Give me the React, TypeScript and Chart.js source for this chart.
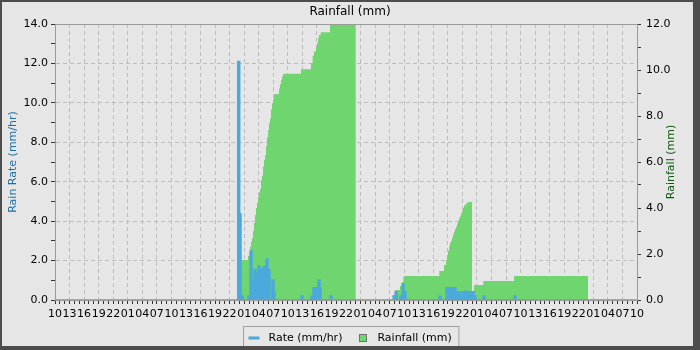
import { useEffect, useRef } from 'react';
import { Chart, registerables } from 'chart.js';

Chart.register(...registerables);
Chart.defaults.font.family = "'DejaVu Sans', sans-serif";

// hour-of-day labels every 3 hours, starting 10:00 (120 hours shown)
const xTickLabels = [
  '10', '13', '16', '19', '22', '01', '04', '07',
  '10', '13', '16', '19', '22', '01', '04', '07',
  '10', '13', '16', '19', '22', '01', '04', '07',
  '10', '13', '16', '19', '22', '01', '04', '07',
  '10', '13', '16', '19', '22', '01', '04', '07',
  '10',
];

// Rain rate (mm/hr): hours since start, value holds until next entry
const rateHours = [
  0, 37.67, 38.08, 38.35, 38.82, 39.79, 40.21, 40.62, 41.03, 41.44, 41.86, 42.27,
  42.47, 42.89, 43.09, 43.51, 43.92, 44.33, 44.74, 45.15, 45.36, 50.72, 51.13,
  52.78, 53.2, 53.61, 53.82, 54.23, 54.64, 54.85, 56.7, 57.11,
  69.73, 70.14, 70.56, 71.13, 71.55, 71.96, 72.37, 79.18, 79.59, 80.62, 81.65,
  81.86, 82.68, 83.51, 83.92, 84.54, 84.95, 86.39, 86.8, 88.25, 88.66, 94.64,
  95.05, 120,
];
const rateValues = [
  0, 12.1, 4.36, 0.2, 0, 0.2, 2.49, 1.01, 1.55, 1.27, 1.72, 0.84,
  1.57, 1.64, 1.72, 2.08, 1.54, 0, 1.01, 0.42, 0, 0.2, 0,
  0.2, 0.62, 0.2, 0.62, 1.01, 0.62, 0, 0.2, 0,
  0.2, 0.42, 0, 0.2, 0.81, 0.42, 0, 0.2, 0, 0.62, 0.42,
  0.62, 0.42, 0.2, 0.42, 0.45, 0.42, 0.2, 0, 0.2, 0, 0.2,
  0, 0,
];

// Rainfall (mm, cumulative): hours since start, value holds until next entry
const rainHours = [
  0, 38.08, 39.79, 40.21, 40.41, 40.62, 40.82, 41.03, 41.24, 41.44, 41.65, 41.86,
  42.06, 42.27, 42.47, 42.68, 42.89, 43.09, 43.3, 43.51, 43.71, 43.92, 44.12,
  44.33, 44.54, 44.74, 44.95, 45.15, 45.36, 46.19, 46.39, 46.6, 46.8, 47.01,
  47.22, 50.72, 52.78, 53.13, 53.4, 53.81, 54.02, 54.23, 54.43, 54.78, 56.7, 62.0,
  69.73, 70.14, 71.13, 71.55, 71.82, 72.16, 79.24, 80.21, 80.62, 80.82, 81.03,
  81.24, 81.44, 81.65, 81.86, 82.06, 82.27, 82.47, 82.68, 82.89, 83.09, 83.3,
  83.51, 83.71, 83.92, 84.12, 84.33, 84.74, 84.95, 85.15, 85.98, 86.39, 88.31,
  94.64, 109.9, 120,
];
const rainValues = [
  0, 1.74, 1.91, 2.32, 2.53, 2.7, 3.01, 3.35, 3.7, 4.0, 4.23, 4.48,
  4.67, 4.83, 5.22, 5.39, 5.8, 6.09, 6.3, 6.7, 7.07, 7.39, 7.68,
  7.9, 8.29, 8.55, 8.72, 8.93, 8.96, 9.2, 9.38, 9.57, 9.71, 9.81,
  9.84, 10.03, 10.3, 10.62, 10.8, 11.0, 11.16, 11.38, 11.52, 11.64, 12.3, 0,
  0.22, 0.43, 0.61, 0.78, 1.01, 1.04, 1.26, 1.52, 1.74, 1.96, 2.13,
  2.32, 2.49, 2.58, 2.72, 2.86, 2.97, 3.09, 3.19, 3.33, 3.45, 3.55,
  3.65, 3.77, 3.88, 4.0, 4.12, 4.2, 4.23, 4.26, 0, 0.65, 0.83,
  1.04, 0, 0,
];

const BLUE = '#4ca9dc';
const GREEN = '#6fd66f';
const GRID = '#bdbdbd';
const AXIS = '#9a9a9a';
const TICK = '#333333';
const BG = '#e6e6e6';
const FRAME = '#4d4d4d';
const LEFT_TITLE_COLOR = '#1f6ea6';
const RIGHT_TITLE_COLOR = '#0a5a0a';

const drawFrame = (ctx: CanvasRenderingContext2D, w: number, h: number) => {
  ctx.fillStyle = FRAME;
  ctx.fillRect(0, 0, w, 2);
  ctx.fillRect(0, 0, 2, h);
  ctx.fillRect(w - 7, 0, 7, h);
  ctx.fillRect(0, h - 4, w, 4);
};

const decorPlugin = {
  id: 'decor',
  beforeDraw(chart: any) {
    const { ctx, width, height } = chart;
    ctx.save();
    ctx.fillStyle = BG;
    ctx.fillRect(0, 0, width, height);
    drawFrame(ctx, width, height);
    ctx.restore();
  },
  afterDatasetsDraw(chart: any) {
    const { ctx, chartArea } = chart;
    ctx.save();
    ctx.strokeStyle = AXIS;
    ctx.lineWidth = 1;
    ctx.beginPath();
    ctx.moveTo(chartArea.left, chartArea.top + 0.5);
    ctx.lineTo(chartArea.right, chartArea.top + 0.5);
    ctx.stroke();
    ctx.restore();
  },
  afterDraw(chart: any) {
    const { ctx, chartArea, width, height } = chart;
    ctx.save();
    // right axis title, reading bottom-to-top
    ctx.translate(chartArea.right + 34, (chartArea.top + chartArea.bottom) / 2);
    ctx.rotate(-Math.PI / 2);
    ctx.textAlign = 'center';
    ctx.textBaseline = 'middle';
    ctx.fillStyle = RIGHT_TITLE_COLOR;
    ctx.font = "11px 'DejaVu Sans', sans-serif";
    ctx.fillText('Rainfall (mm)', 0, 0);
    ctx.restore();

    // legend
    const t1 = chart.data.datasets[0].label as string;
    const t2 = chart.data.datasets[1].label as string;
    ctx.save();
    ctx.font = "11px 'DejaVu Sans', sans-serif";
    const w1 = ctx.measureText(t1).width;
    const w2 = ctx.measureText(t2).width;
    const inner = 11 + 9 + w1 + 17 + 8 + 10 + w2;
    const boxW = inner + 12;
    const cx = width / 2 + 1;
    const bx = Math.round(cx - boxW / 2) + 0.5;
    const by = chartArea.bottom + 26.5;
    const cy = by + 11.5;
    ctx.fillStyle = BG;
    ctx.fillRect(bx, by, boxW, 30);
    ctx.strokeStyle = '#a0a0a0';
    ctx.lineWidth = 1;
    ctx.strokeRect(bx, by, boxW, 30);
    let x = bx + 5;
    ctx.strokeStyle = BLUE;
    ctx.lineWidth = 3;
    ctx.beginPath();
    ctx.moveTo(x, cy);
    ctx.lineTo(x + 11, cy);
    ctx.stroke();
    x += 11 + 9;
    ctx.fillStyle = '#000';
    ctx.textBaseline = 'middle';
    ctx.textAlign = 'left';
    ctx.fillText(t1, x, cy);
    x += w1 + 17;
    ctx.fillStyle = GREEN;
    ctx.fillRect(Math.round(x) + 0.5, Math.round(cy - 4) + 0.5, 7, 7);
    ctx.strokeStyle = '#707070';
    ctx.lineWidth = 1;
    ctx.strokeRect(Math.round(x) + 0.5, Math.round(cy - 4) + 0.5, 7, 7);
    x += 8 + 10;
    ctx.fillStyle = '#000';
    ctx.fillText(t2, x, cy);
    drawFrame(ctx, width, height);
    ctx.restore();
  },
};

export default function App() {
  const ref = useRef<HTMLCanvasElement>(null);

  useEffect(() => {
    if (!ref.current) return;
    const chart = new Chart(ref.current, {
      type: 'line',
      data: {
        datasets: [
          {
            label: 'Rate (mm/hr)',
            data: rateHours.map((h, i) => ({ x: h, y: rateValues[i] })),
            yAxisID: 'y',
            stepped: 'before',
            fill: 'origin',
            borderColor: BLUE,
            backgroundColor: BLUE,
            borderWidth: 1.5,
            pointRadius: 0,
          },
          {
            label: 'Rainfall (mm)',
            data: rainHours.map((h, i) => ({ x: h, y: rainValues[i] })),
            yAxisID: 'y1',
            stepped: 'before',
            fill: 'origin',
            borderColor: GREEN,
            backgroundColor: GREEN,
            borderWidth: 0,
            pointRadius: 0,
          },
        ],
      },
      options: {
        responsive: false,
        animation: false,
        devicePixelRatio: 1,
        layout: { padding: { left: 0, right: 0, top: 0, bottom: 24 } },
        plugins: {
          legend: { display: false },
          tooltip: { enabled: false },
          title: {
            display: true,
            text: 'Rainfall (mm)',
            color: '#000',
            font: { size: 12, weight: 'normal' },
            padding: { top: 5, bottom: 4.6 },
          },
        },
        scales: {
          x: {
            type: 'linear',
            min: 0,
            max: 120,
            ticks: {
              stepSize: 1,
              autoSkip: false,
              maxRotation: 0,
              minRotation: 0,
              padding: 4,
              color: '#000',
              font: { size: 11 },
              callback: (v: any) => (Number(v) % 3 === 0 ? xTickLabels[Number(v) / 3] : ''),
            },
            grid: {
              color: (c: any) => (c.tick && c.tick.value % 3 === 0 ? GRID : 'transparent'),
              tickColor: TICK,
              tickLength: 4,
              lineWidth: 1,
            },
            border: { color: AXIS, dash: [4, 3] },
            afterFit: (s: any) => {
              s.height = 26;
            },
          },
          y: {
            position: 'left',
            min: 0,
            max: 14,
            ticks: {
              stepSize: 1,
              autoSkip: false,
              padding: 3,
              color: '#000',
              font: { size: 11 },
              callback: (v: any) => (Number(v) % 2 === 0 ? Number(v).toFixed(1) : ''),
            },
            grid: {
              color: (c: any) =>
                c.tick && c.tick.value % 2 === 0 && c.tick.value > 0 && c.tick.value < 14 ? GRID : 'transparent',
              tickColor: TICK,
              tickLength: 4,
            },
            border: { color: AXIS, dash: [4, 3] },
            title: {
              display: true,
              text: 'Rain Rate (mm/hr)',
              color: LEFT_TITLE_COLOR,
              font: { size: 11 },
              padding: { top: 7, bottom: 0 },
            },
            afterFit: (s: any) => {
              s.width = 55;
            },
          },
          y1: {
            position: 'right',
            min: 0,
            max: 12,
            ticks: {
              stepSize: 1,
              autoSkip: false,
              padding: 5,
              color: '#000',
              font: { size: 11 },
              callback: (v: any) => (Number(v) % 2 === 0 ? Number(v).toFixed(1) : ''),
            },
            grid: { drawOnChartArea: false, tickColor: TICK, tickLength: 4 },
            border: { color: AXIS },
            afterFit: (s: any) => {
              s.width = 63;
            },
          },
        },
      },
      plugins: [decorPlugin],
    } as any);
    return () => chart.destroy();
  }, []);

  return (
    <div style={{ position: 'fixed', left: 0, top: 0, width: 700, height: 350 }}>
      <canvas ref={ref} width={700} height={350} style={{ display: 'block' }} />
    </div>
  );
}
